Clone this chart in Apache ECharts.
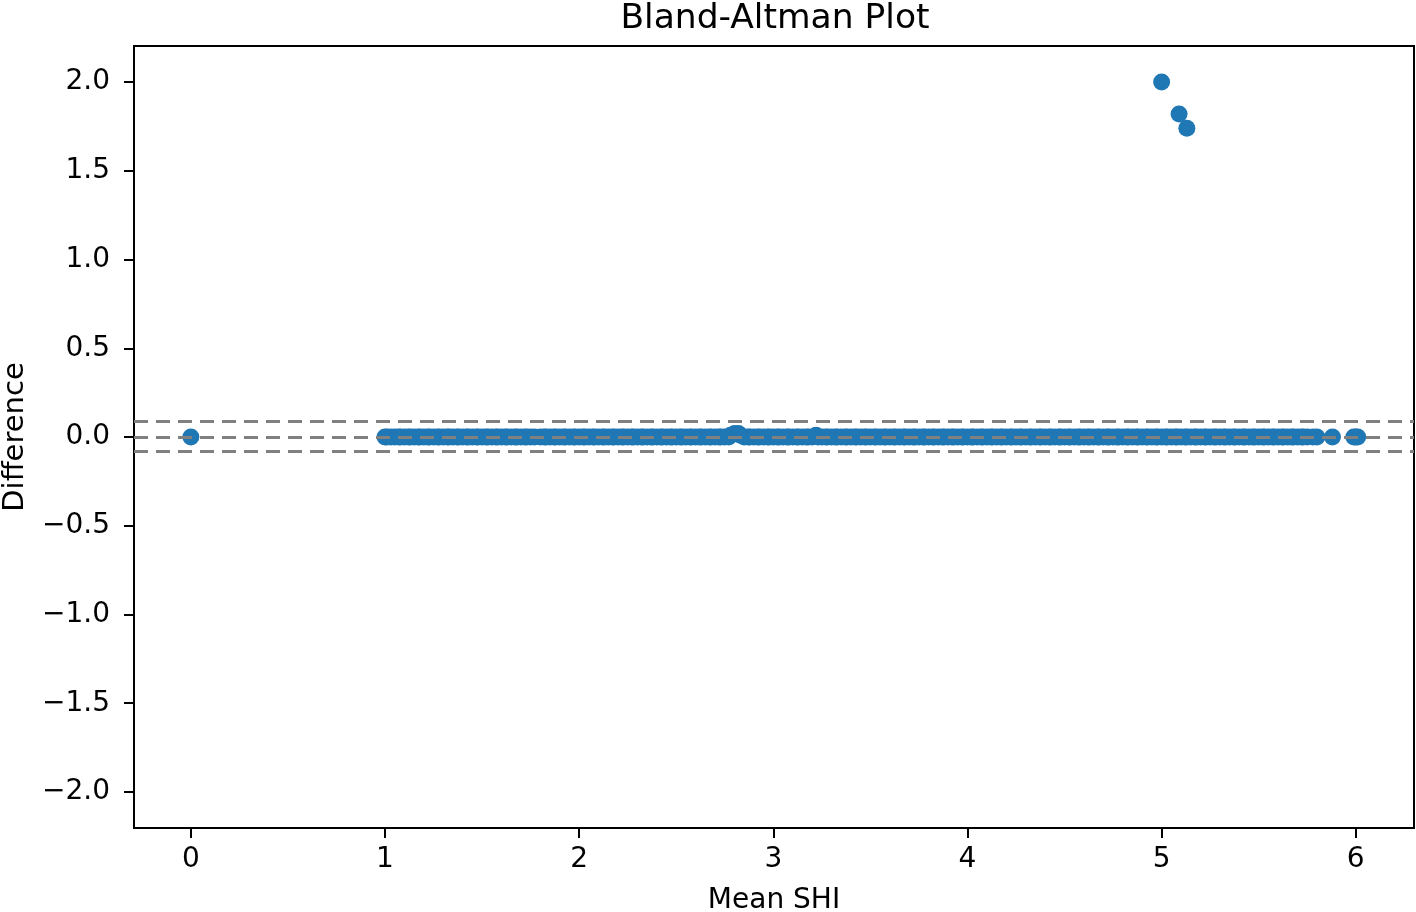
<!DOCTYPE html>
<html>
<head>
<meta charset="utf-8">
<script src="https://cdn.jsdelivr.net/npm/echarts@6/dist/echarts.min.js"></script>
<style>
html,body{margin:0;padding:0;background:#fff;}
#chart{width:1416px;height:912px;}
</style>
</head>
<body>
<div id="chart"></div>
<script>
// ---- data ----
const meanSHI = [
  0.00,
  1.00,1.01,1.03,1.05,1.07,1.08,1.10,1.12,1.13,1.15,1.17,1.18,1.20,1.22,1.23,1.25,1.27,1.28,1.30,1.32,
  1.33,1.35,1.37,1.38,1.40,1.42,1.43,1.45,1.47,1.48,1.50,1.52,1.53,1.55,1.57,1.58,1.60,1.62,1.63,1.65,
  1.67,1.68,1.70,1.72,1.73,1.75,1.77,1.80,1.82,1.83,1.85,1.87,1.88,1.90,1.92,1.93,1.95,1.97,1.98,2.00,
  2.02,2.03,2.05,2.07,2.08,2.10,2.12,2.13,2.15,2.17,2.18,2.20,2.22,2.23,2.25,2.27,2.28,2.30,2.32,2.33,
  2.35,2.37,2.38,2.40,2.42,2.43,2.45,2.47,2.48,2.50,2.52,2.53,2.55,2.57,2.58,2.60,2.62,2.63,2.65,2.67,
  2.68,2.70,2.72,2.73,2.75,2.77,2.78,2.80,2.82,2.83,2.85,2.87,2.88,2.90,2.92,2.93,2.95,2.97,2.98,3.00,
  3.02,3.03,3.05,3.07,3.08,3.10,3.12,3.13,3.15,3.17,3.18,3.20,3.22,3.23,3.25,3.27,3.28,3.30,3.32,3.33,
  3.35,3.37,3.38,3.40,3.42,3.43,3.45,3.47,3.48,3.50,3.52,3.53,3.55,3.57,3.58,3.60,3.62,3.63,3.65,3.67,
  3.68,3.70,3.72,3.73,3.75,3.77,3.78,3.80,3.82,3.83,3.85,3.87,3.88,3.90,3.92,3.93,3.95,3.97,3.98,4.00,
  4.02,4.03,4.05,4.07,4.08,4.10,4.12,4.13,4.15,4.17,4.18,4.20,4.22,4.23,4.25,4.27,4.28,4.30,4.32,4.33,
  4.35,4.37,4.38,4.40,4.42,4.43,4.45,4.47,4.48,4.50,4.52,4.53,4.55,4.57,4.58,4.60,4.62,4.63,4.65,4.67,
  4.68,4.70,4.72,4.73,4.75,4.77,4.78,4.80,4.82,4.83,4.85,4.87,4.88,4.90,4.92,4.93,4.95,4.97,4.98,5.00,
  5.02,5.03,5.05,5.07,5.08,5.10,5.12,5.13,5.15,5.17,5.18,5.20,5.22,5.23,5.25,5.27,5.28,5.30,5.32,5.33,
  5.35,5.37,5.38,5.40,5.42,5.43,5.45,5.47,5.48,5.50,5.52,5.53,5.55,5.57,5.58,5.60,5.62,5.63,5.65,5.67,
  5.68,5.70,5.72,5.73,5.75,5.78,5.80,5.88,5.99,6.00,6.01,
  5.00,5.09,5.13
];
const difference = [
  0.00,
  0.00,0.00,0.00,0.00,0.00,0.00,0.00,0.00,0.00,0.00,0.00,0.00,0.00,0.00,0.00,0.00,0.00,0.00,0.00,0.00,
  0.00,0.00,0.00,0.00,0.00,0.00,0.00,0.00,0.00,0.00,0.00,0.00,0.00,0.00,0.00,0.00,0.00,0.00,0.00,0.00,
  0.00,0.00,0.00,0.00,0.00,0.00,0.00,0.00,0.00,0.00,0.00,0.00,0.00,0.00,0.00,0.00,0.00,0.00,0.00,0.00,
  0.00,0.00,0.00,0.00,0.00,0.00,0.00,0.00,0.00,0.00,0.00,0.00,0.00,0.00,0.00,0.00,0.00,0.00,0.00,0.00,
  0.00,0.00,0.00,0.00,0.00,0.00,0.00,0.00,0.00,0.00,0.00,0.00,0.00,0.00,0.00,0.00,0.00,0.00,0.00,0.00,
  0.00,0.00,0.00,0.00,0.00,0.00,0.01,0.02,0.02,0.01,0.00,0.00,0.00,0.00,0.00,0.00,0.00,0.00,0.00,0.00,
  0.00,0.00,0.00,0.00,0.00,0.00,0.00,0.00,0.00,0.00,0.00,0.00,0.01,0.00,0.00,0.00,0.00,0.00,0.00,0.00,
  0.00,0.00,0.00,0.00,0.00,0.00,0.00,0.00,0.00,0.00,0.00,0.00,0.00,0.00,0.00,0.00,0.00,0.00,0.00,0.00,
  0.00,0.00,0.00,0.00,0.00,0.00,0.00,0.00,0.00,0.00,0.00,0.00,0.00,0.00,0.00,0.00,0.00,0.00,0.00,0.00,
  0.00,0.00,0.00,0.00,0.00,0.00,0.00,0.00,0.00,0.00,0.00,0.00,0.00,0.00,0.00,0.00,0.00,0.00,0.00,0.00,
  0.00,0.00,0.00,0.00,0.00,0.00,0.00,0.00,0.00,0.00,0.00,0.00,0.00,0.00,0.00,0.00,0.00,0.00,0.00,0.00,
  0.00,0.00,0.00,0.00,0.00,0.00,0.00,0.00,0.00,0.00,0.00,0.00,0.00,0.00,0.00,0.00,0.00,0.00,0.00,0.00,
  0.00,0.00,0.00,0.00,0.00,0.00,0.00,0.00,0.00,0.00,0.00,0.00,0.00,0.00,0.00,0.00,0.00,0.00,0.00,0.00,
  0.00,0.00,0.00,0.00,0.00,0.00,0.00,0.00,0.00,0.00,0.00,0.00,0.00,0.00,0.00,0.00,0.00,0.00,0.00,0.00,
  0.00,0.00,0.00,0.00,0.00,0.00,0.00,0.00,0.00,0.00,0.00,
  2.00,1.82,1.74
];
const meanDiff = 0.004;
const upperLoA = 0.085;
const lowerLoA = -0.077;
const xTicks = [0,1,2,3,4,5,6];
const yTicks = [-2.0,-1.5,-1.0,-0.5,0.0,0.5,1.0,1.5,2.0];

const points = meanSHI.map((m, i) => [m, difference[i]]);
const font = '"DejaVu Sans", sans-serif';

const chart = echarts.init(document.getElementById('chart'), null, {renderer: 'canvas'});
chart.setOption({
  animation: false,
  backgroundColor: '#fff',
  title: {
    text: 'Bland-Altman Plot',
    left: 770,
    top: -3,
    textAlign: 'center',
    textStyle: {fontFamily: font, fontSize: 34.5, fontWeight: 'normal', color: '#000'}
  },
  grid: {
    left: 134, right: 2, top: 46, bottom: 84,
    outerBoundsMode: 'none',
    containLabel: false,
    show: true, borderColor: '#000', borderWidth: 2, backgroundColor: 'transparent'
  },
  xAxis: {
    type: 'value',
    min: -0.293, max: 6.30,
    name: 'Mean SHI',
    nameLocation: 'middle',
    nameGap: 59,
    nameTextStyle: {fontFamily: font, fontSize: 28, color: '#000'},
    axisLine: {show: false, onZero: false},
    splitLine: {show: false},
    axisTick: {show: true, customValues: xTicks, length: 10, lineStyle: {color: '#000', width: 2}},
    axisLabel: {customValues: xTicks, fontFamily: font, fontSize: 28, color: '#000', margin: 18,
      formatter: v => String(v)}
  },
  yAxis: {
    type: 'value',
    min: -2.203, max: 2.203,
    name: 'Difference',
    nameLocation: 'middle',
    nameGap: 104,
    nameRotate: 90,
    nameTextStyle: {fontFamily: font, fontSize: 29, color: '#000'},
    axisLine: {show: false, onZero: false},
    splitLine: {show: false},
    axisTick: {show: true, customValues: yTicks, length: 10, lineStyle: {color: '#000', width: 2}},
    axisLabel: {customValues: yTicks, fontFamily: font, fontSize: 28, color: '#000', margin: 24,
      formatter: v => v.toFixed(1).replace('-', '\u2212')}
  },
  series: [
    {
      type: 'scatter',
      data: points,
      symbol: 'circle',
      symbolSize: 17,
      itemStyle: {color: '#1f77b4', opacity: 1},
      z: 2
    },
    {
      type: 'line',
      data: [],
      z: 5,
      markLine: {
        silent: true,
        symbol: ['none', 'none'],
        label: {show: false},
        lineStyle: {color: '#808080', type: [14, 8], width: 3},
        data: [
          {yAxis: meanDiff},
          {yAxis: upperLoA},
          {yAxis: lowerLoA}
        ]
      }
    }
  ]
});
</script>
</body>
</html>
